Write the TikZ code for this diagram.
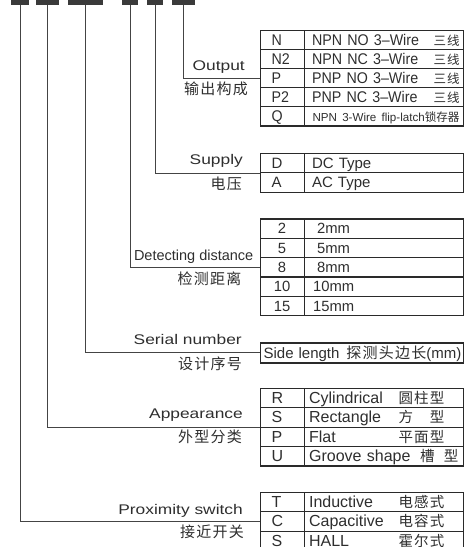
\documentclass[tikz,border=0pt]{standalone}
\usepackage{fontspec}
\setmainfont{Liberation Sans}
\newfontfamily\labf[FakeStretch=1.24]{Liberation Sans}
\newfontfamily\tabf{Liberation Sans}
\newfontfamily\tabn[FakeStretch=0.92]{Liberation Sans}
\newfontfamily\cjkf[LetterSpace=8]{Noto Sans CJK SC}
\newfontfamily\cjkn{Noto Sans CJK SC}
\definecolor{linec}{HTML}{2A2A2A}
\definecolor{connc}{HTML}{444444}
\definecolor{txtc}{HTML}{2E2E2E}
\definecolor{barc}{HTML}{3A3A3A}
\begin{document}
\begin{tikzpicture}[x=1pt,y=-1pt,
  bar/.style={fill=barc, draw=none, rectangle, anchor=north, minimum height=4.5pt, inner sep=0pt},
  conn/.style={draw=connc, line width=0.9pt},
  cellbase/.style={draw=linec, line width=1.2pt, rectangle, anchor=north west, inner xsep=0pt, inner ysep=0pt, align=left, text height=10.8pt, text depth=0pt, text=txtc},
  codecell/.style={cellbase, text width=44pt, minimum height=#1},
  desccell/.style={cellbase, text width=159pt, minimum height=#1},
  labE/.style={anchor=base east, inner sep=0pt, text=txtc, font=\labf\fontsize{14}{14}\selectfont},
  labC/.style={anchor=east, inner sep=0pt, text=txtc, font=\cjkf\fontsize{15}{15}\selectfont},
]
\useasboundingbox (0,0) rectangle (464,547);
\clip (0,0) rectangle (464,547);

% bars
\node[bar, minimum width=18pt] (b1) at (20,0) {};
\node[bar, minimum width=23pt] (b2) at (47.5,0) {};
\node[bar, minimum width=35pt] (b3) at (85.5,0) {};
\node[bar, minimum width=16pt] (b4) at (130,0) {};
\node[bar, minimum width=16pt] (b5) at (155,0) {};
\node[bar, minimum width=23pt] (b6) at (183.5,0) {};

% labels
\node[labE] (lOut) at (245,70.5) {Output};
\node[labC] (lOutC) at (248,88.9) {输出构成};
\node[labE] (lSup) at (243,164.5) {Supply};
\node[labC] (lSupC) at (242,184) {电压};
\node[labE, font=\tabf\fontsize{14.5}{14.5}\selectfont] (lDet) at (253.5,260.7) {Detecting distance};
\node[labC] (lDetC) at (241.5,278.5) {检测距离};
\node[labE] (lSer) at (242,344.5) {Serial number};
\node[labC] (lSerC) at (242,363.3) {设计序号};
\node[labE] (lApp) at (243,418.7) {Appearance};
\node[labC] (lAppC) at (242,437.3) {外型分类};
\node[labE] (lPro) at (243,514.3) {Proximity switch};
\node[labC] (lProC) at (244,532) {接近开关};

% Output table
\begin{scope}[nodes={font=\tabn\fontsize{15.5}{16}\selectfont}]
\node[codecell=19.07pt] (oN) at (259.5,30) {\hspace*{11.5pt}N};
\node[desccell=19.07pt] (oNd) at (303.5,30) {\hspace*{8pt}\makebox[121.5pt][l]{NPN NO 3–Wire}{\cjkf\fontsize{12.5}{13}\selectfont 三线}};
\node[codecell=19.07pt] (oN2) at (259.5,49.07) {\hspace*{11.5pt}N2};
\node[desccell=19.07pt] (oN2d) at (303.5,49.07) {\hspace*{8pt}\makebox[121.5pt][l]{NPN NC 3–Wire}{\cjkf\fontsize{12.5}{13}\selectfont 三线}};
\node[codecell=19.07pt] (oP) at (259.5,68.14) {\hspace*{11.5pt}P};
\node[desccell=19.07pt] (oPd) at (303.5,68.14) {\hspace*{8pt}\makebox[121.5pt][l]{PNP NO 3–Wire}{\cjkf\fontsize{12.5}{13}\selectfont 三线}};
\node[codecell=19.07pt] (oP2) at (259.5,87.21) {\hspace*{11.5pt}P2};
\node[desccell=19.07pt] (oP2d) at (303.5,87.21) {\hspace*{8pt}\makebox[121.5pt][l]{PNP NC 3–Wire}{\cjkf\fontsize{12.5}{13}\selectfont 三线}};
\node[codecell=19.07pt] (oQ) at (259.5,106.28) {\hspace*{11.5pt}Q};
\node[desccell=19.07pt] (oQd) at (303.5,106.28) {\hspace*{8.5pt}{\tabf\fontsize{11.6}{12}\selectfont NPN 3-Wire flip-latch{\cjkn 锁存器}}};
\end{scope}

% Supply table
\begin{scope}[nodes={font=\tabf\fontsize{15}{15}\selectfont}]
\node[codecell=19.5pt] (sD) at (259.5,152.7) {\hspace*{11.5pt}D};
\node[desccell=19.5pt] (sDd) at (303.5,152.7) {\hspace*{8pt}DC Type};
\node[codecell=19.5pt] (sA) at (259.5,172.2) {\hspace*{11.5pt}A};
\node[desccell=19.5pt] (sAd) at (303.5,172.2) {\hspace*{8pt}AC Type};
\end{scope}

% Detecting distance table
\begin{scope}[nodes={font=\tabf\fontsize{14.8}{15}\selectfont}]
\node[codecell=19.34pt, align=center] (d2) at (259.5,218.3) {2};
\node[desccell=19.34pt] (d2d) at (303.5,218.3) {\hspace*{13pt}2mm};
\node[codecell=19.34pt, align=center] (d5) at (259.5,237.64) {5};
\node[desccell=19.34pt] (d5d) at (303.5,237.64) {\hspace*{13pt}5mm};
\node[codecell=19.34pt, align=center] (d8) at (259.5,256.98) {8};
\node[desccell=19.34pt] (d8d) at (303.5,256.98) {\hspace*{13pt}8mm};
\node[codecell=19.34pt, align=center] (d10) at (259.5,276.32) {10};
\node[desccell=19.34pt] (d10d) at (303.5,276.32) {\hspace*{9pt}10mm};
\node[codecell=19.34pt, align=center] (d15) at (259.5,295.66) {15};
\node[desccell=19.34pt] (d15d) at (303.5,295.66) {\hspace*{9pt}15mm};
\end{scope}

% Side length box
\node[cellbase, text width=203pt, minimum height=20pt, font=\tabf\fontsize{15}{15}\selectfont] (side) at (259.5,342.3) {\hspace*{3.5pt}Side length\hspace{2pt} {\cjkf 探测头边长}(mm)};

% Appearance table
\begin{scope}[nodes={font=\tabf\fontsize{16}{16}\selectfont}]
\node[codecell=19.4pt] (aR) at (259.5,387.7) {\hspace*{11.5pt}R};
\node[desccell=19.4pt] (aRd) at (303.5,387.7) {\hspace*{5pt}\makebox[89.5pt][l]{Cylindrical}{\cjkf\fontsize{14.5}{15}\selectfont 圆柱型}};
\node[codecell=19.4pt] (aS) at (259.5,407.1) {\hspace*{11.5pt}S};
\node[desccell=19.4pt] (aSd) at (303.5,407.1) {\hspace*{5pt}\makebox[89.5pt][l]{Rectangle}{\cjkf\fontsize{14.5}{15}\selectfont 方　型}};
\node[codecell=19.4pt] (aP) at (259.5,426.5) {\hspace*{11.5pt}P};
\node[desccell=19.4pt] (aPd) at (303.5,426.5) {\hspace*{5pt}\makebox[89.5pt][l]{Flat}{\cjkf\fontsize{14.5}{15}\selectfont 平面型}};
\node[codecell=19.4pt] (aU) at (259.5,445.9) {\hspace*{11.5pt}U};
\node[desccell=19.4pt] (aUd) at (303.5,445.9) {\hspace*{5pt}\makebox[111pt][l]{Groove shape}{\cjkf\fontsize{14.5}{15}\selectfont 槽\hspace{9.3pt}型}};
\end{scope}

% Proximity table
\begin{scope}[nodes={font=\tabf\fontsize{16}{16}\selectfont}]
\node[codecell=19.4pt] (pT) at (259.5,491.7) {\hspace*{11.5pt}T};
\node[desccell=19.4pt] (pTd) at (303.5,491.7) {\hspace*{5pt}\makebox[89.5pt][l]{Inductive}{\cjkf\fontsize{14.5}{15}\selectfont 电感式}};
\node[codecell=19.4pt] (pC) at (259.5,511.1) {\hspace*{11.5pt}C};
\node[desccell=19.4pt] (pCd) at (303.5,511.1) {\hspace*{5pt}\makebox[89.5pt][l]{Capacitive}{\cjkf\fontsize{14.5}{15}\selectfont 电容式}};
\node[codecell=19.4pt] (pS) at (259.5,530.5) {\hspace*{11.5pt}S};
\node[desccell=19.4pt] (pSd) at (303.5,530.5) {\hspace*{5pt}\makebox[89.5pt][l]{HALL}{\cjkf\fontsize{14.5}{15}\selectfont 霍尔式}};
\end{scope}

% connectors
\draw[conn] (b6.south) |- (oP.west);
\draw[conn] (b5.south) |- (sD.south west);
\draw[conn] (b4.south) |- (d8.west);
\draw[conn] (b3.south) |- (side.west);
\draw[conn] (b2.south) |- (aS.south west);
\draw[conn] (b1.south) |- (pC.west);
\end{tikzpicture}
\end{document}
